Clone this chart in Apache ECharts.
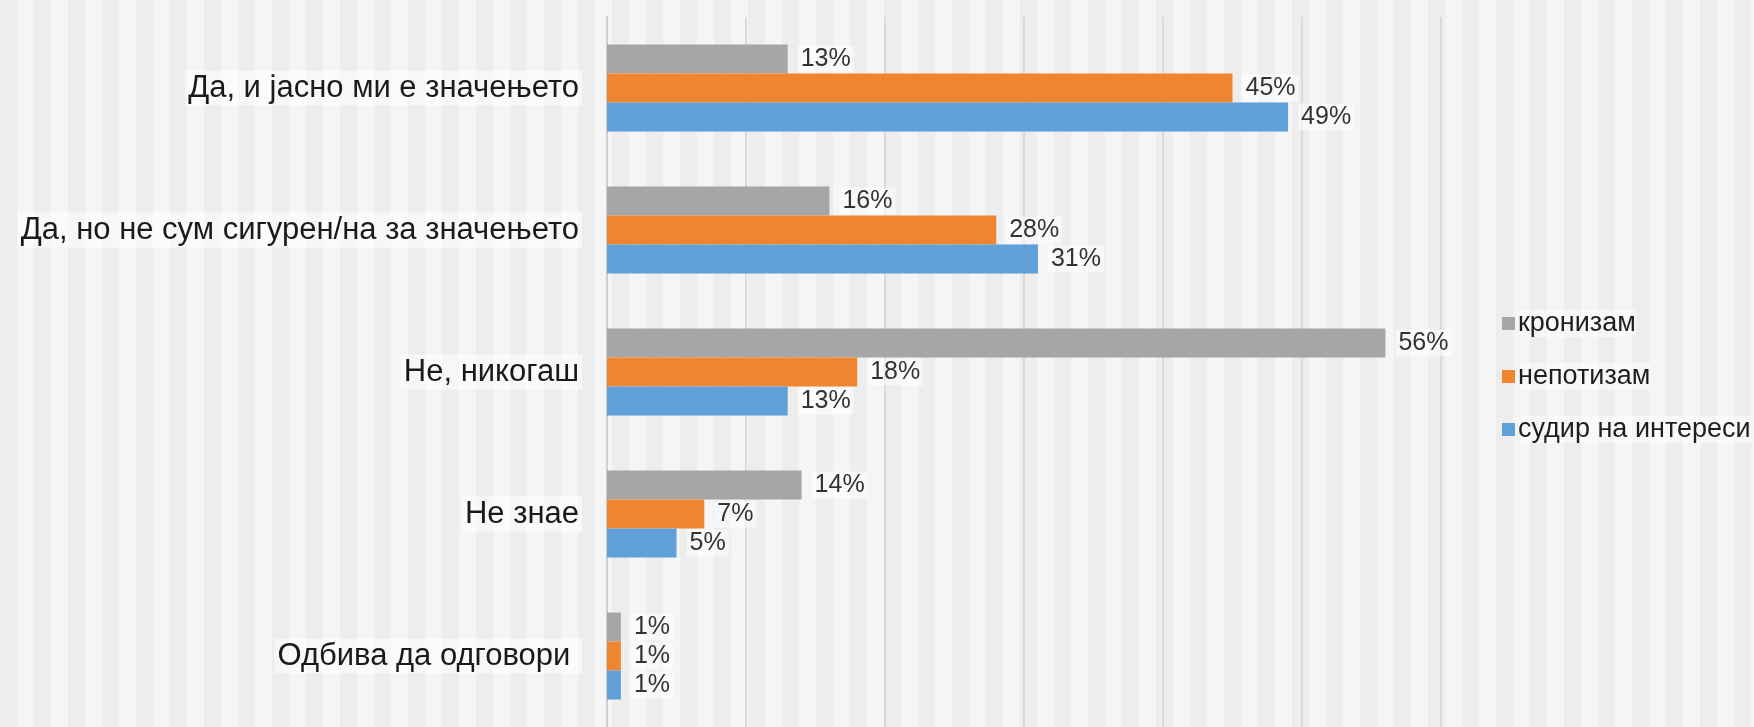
<!DOCTYPE html>
<html>
<head>
<meta charset="utf-8">
<script src="https://cdn.jsdelivr.net/npm/echarts@6/dist/echarts.min.js"></script>
<style>
html,body{margin:0;padding:0;}
#chart{width:1754px;height:727px;
background:repeating-linear-gradient(to right,#ededed 0px,#ededed 17px,#f5f5f5 17px,#f5f5f5 34px);}
</style>
</head>
<body>
<div id="chart"></div>
<script>
const categories = ['Да, и јасно ми е значењето','Да, но не сум сигурен/на за значењето','Не, никогаш','Не знае','Одбива да одговори '];
const seriesNames = ['кронизам','непотизам','судир на интереси'];
const cronyism = [13,16,56,14,1];
const nepotism = [45,28,18,7,1];
const conflict = [49,31,13,5,1];
const colors = ['#a6a6a6','#f0852f','#5fa0d8'];
const xTicks = {min:0,max:60,interval:10};

const chart = echarts.init(document.getElementById('chart'), null, {renderer:'canvas'});
const font = '"Liberation Sans", Arial, sans-serif';
function mk(name, data, color){
  return {
    name:name, type:'bar', data:data, barWidth:29, barGap:'0%',
    itemStyle:{color:color},
    label:{show:true, position:'right', distance:10, formatter:'{c}%',
      fontFamily:font, fontSize:25, color:'#333333',
      backgroundColor:'rgba(255,255,255,0.55)', padding:[1,3]}
  };
}
chart.setOption({
  backgroundColor:'transparent',
  animation:false,
  grid:{left:607, top:17, width:834, bottom:0, containLabel:false},
  legend:{orient:'vertical', left:1497, top:305, itemWidth:13, itemHeight:13, itemGap:26,
    icon:'rect', data:seriesNames,
    textStyle:{fontFamily:font, fontSize:27, color:'#1e1e1e', padding:[0,0,0,-2],
      backgroundColor:'rgba(255,255,255,0.5)'}},
  xAxis:{type:'value', min:xTicks.min, max:xTicks.max, interval:xTicks.interval,
    axisLabel:{show:false}, axisLine:{show:false}, axisTick:{show:false},
    splitLine:{show:true, lineStyle:{color:'#dadada', width:2}}},
  yAxis:{type:'category', data:categories, inverse:true,
    axisLine:{show:true, lineStyle:{color:'#cfcfcf', width:2}}, axisTick:{show:false},
    axisLabel:{margin:25, fontFamily:font, fontSize:31, color:'#1a1a1a',
      backgroundColor:'rgba(255,255,255,0.55)', padding:[2,3]}},
  series:[mk(seriesNames[0],cronyism,colors[0]), mk(seriesNames[1],nepotism,colors[1]), mk(seriesNames[2],conflict,colors[2])]
});
</script>
</body>
</html>
